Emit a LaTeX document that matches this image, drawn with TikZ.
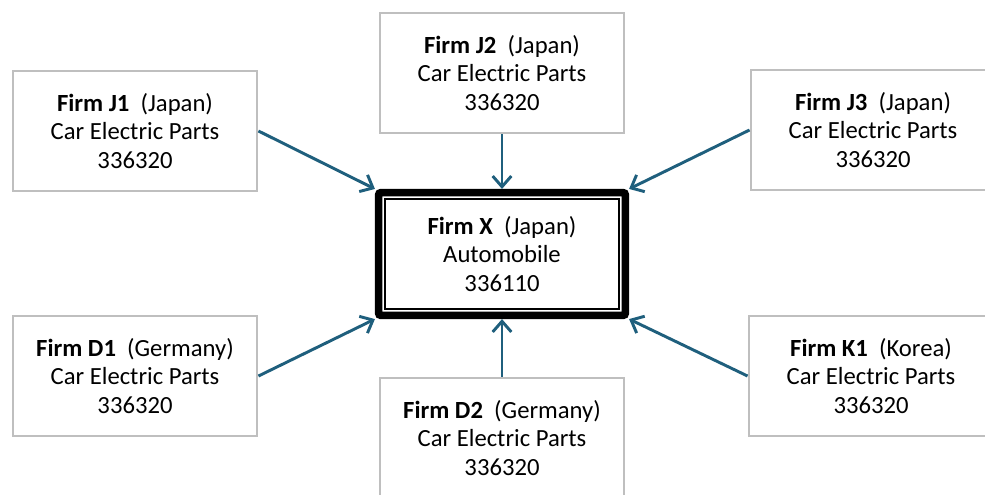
\documentclass[tikz,border=0pt]{standalone}
\usepackage{fontspec}
\setmainfont{Carlito}
\usetikzlibrary{arrows.meta}

\definecolor{linkblue}{RGB}{31,95,125}
\definecolor{boxgray}{RGB}{191,191,191}

\begin{document}
\begin{tikzpicture}[x=0.75pt, y=-0.75pt,
    every node/.style={rectangle, align=center, inner sep=0pt, font=\fontsize{18.5}{21.4}\selectfont},
    firm/.style={draw=boxgray, line width=2.2pt, minimum width=183pt, minimum height=90pt},
    focal/.style={draw=black, line width=5.6pt, rounded corners=1.5pt, minimum width=185pt, minimum height=92pt},
    link/.style={draw=linkblue, line width=2.2pt, -{Straight Barb[length=8pt,width=14pt]}}]
    \useasboundingbox (0,0) rectangle (985,494);

    \node[focal] (FirmX) at (502,254) {\textbf{Firm X}\ \ (Japan)\\Automobile\\336110};
    \draw[line width=1.3pt] ([xshift=7.6pt,yshift=-7.6pt]FirmX.north west) rectangle ([xshift=-7.6pt,yshift=7.6pt]FirmX.south east);

    \node[firm] (FirmJ1) at (135,131) {\textbf{Firm J1}\ \ (Japan)\\Car Electric Parts\\336320};
    \node[firm] (FirmJ2) at (502,73) {\textbf{Firm J2}\ \ (Japan)\\Car Electric Parts\\336320};
    \node[firm] (FirmJ3) at (873,130) {\textbf{Firm J3}\ \ (Japan)\\Car Electric Parts\\336320};
    \node[firm] (FirmD1) at (135,376) {\textbf{Firm D1}\ \ (Germany)\\Car Electric Parts\\336320};
    \node[firm] (FirmD2) at (502,438) {\textbf{Firm D2}\ \ (Germany)\\Car Electric Parts\\336320};
    \node[firm] (FirmK1) at (871,376) {\textbf{Firm K1}\ \ (Korea)\\Car Electric Parts\\336320};

    \draw[link] (FirmJ1.east) -- (FirmX.north west);
    \draw[link] (FirmJ2.south) -- (FirmX.north);
    \draw[link] (FirmJ3.west) -- (FirmX.north east);
    \draw[link] (FirmD1.east) -- (FirmX.south west);
    \draw[link] (FirmD2.north) -- (FirmX.south);
    \draw[link] (FirmK1.west) -- (FirmX.south east);
\end{tikzpicture}
\end{document}
